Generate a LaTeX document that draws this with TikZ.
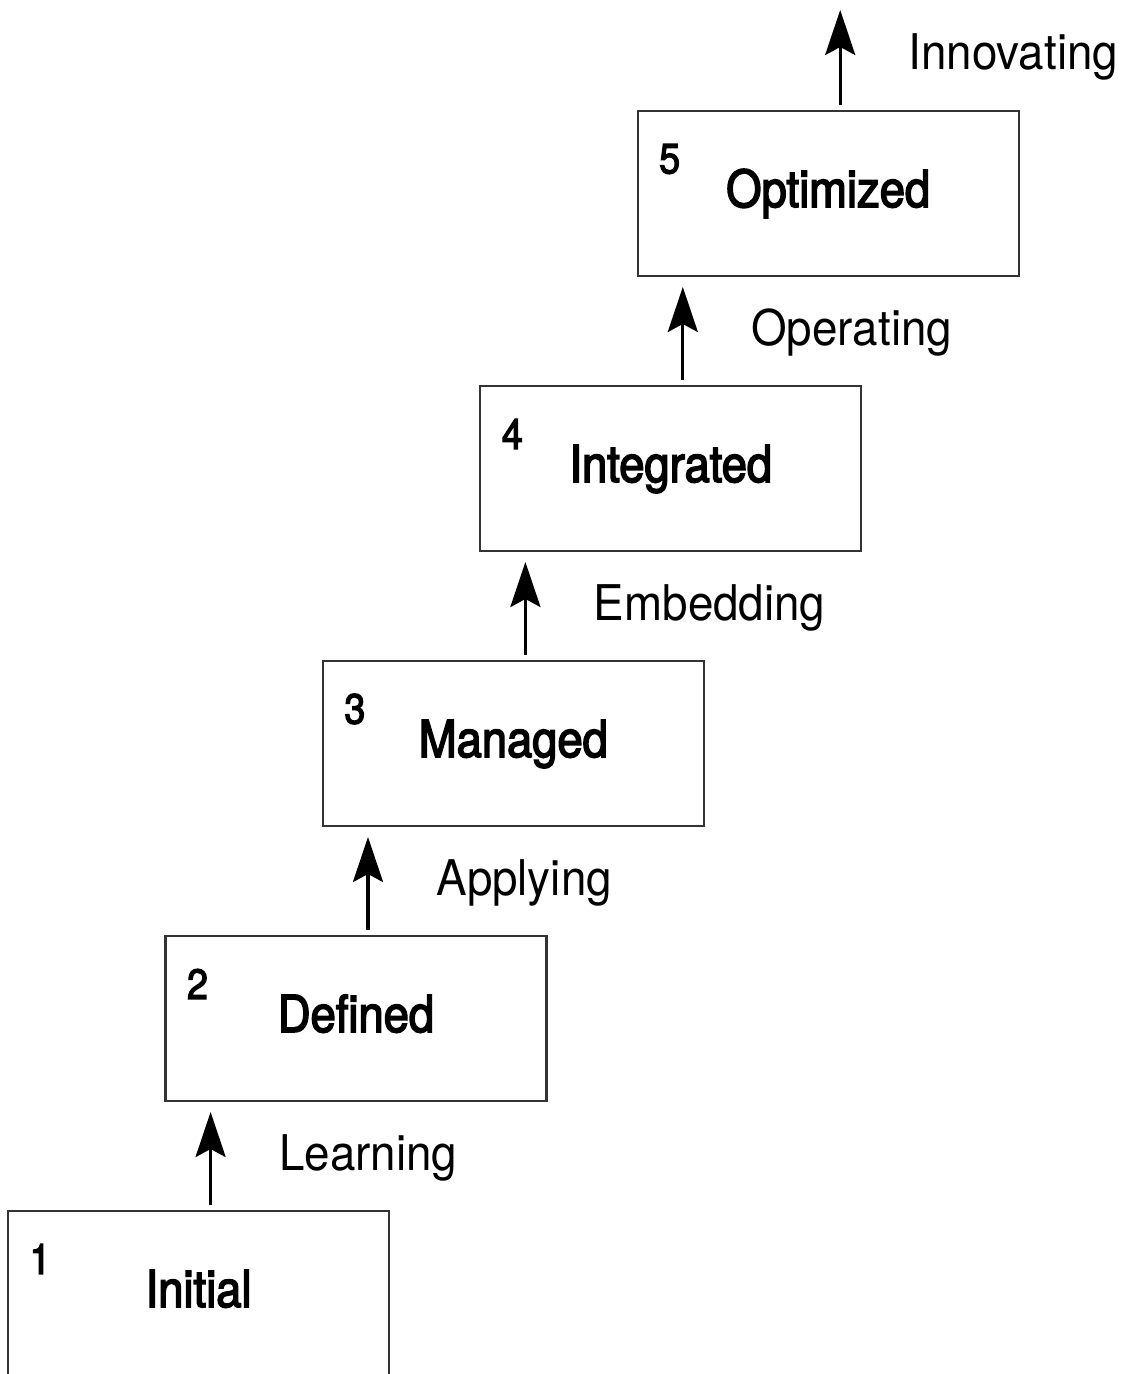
\documentclass[tikz,border=0pt]{standalone}
\usepackage{fontspec}
\setmainfont{TeX Gyre Heros}
\newfontfamily\stagefont[FakeStretch = 0.89, FakeBold = 3]{TeX Gyre Heros}
\newfontfamily\stepfont[FakeStretch = 0.93]{TeX Gyre Heros}
\usepackage{tikz}
\usetikzlibrary{arrows.meta, positioning}
\tikzstyle{stage} = [rectangle, minimum width = 3.81cm, minimum height = 1.65cm,
  outer sep = 0pt, draw = black!80, line width = 0.6pt, text height = 0.37cm,
  text depth = 0.1cm, font = \stagefont\fontsize{14.5}{17}\selectfont]
\tikzstyle{stagenum} = [inner sep = 0pt, font =
  \stagefont\fontsize{12}{14}\selectfont]
\tikzstyle{steplabel} = [anchor = west, xshift = 0.67cm, inner sep = 0pt,
  text height = 0.36cm, text depth = 0.06cm, font =
  \stepfont\fontsize{14}{17}\selectfont]
\tikzstyle{arrow} = [line width = 0.9pt, shorten < = 0.06cm, shorten > = 0.11cm,
  -{Stealth[length = 4.5mm, width = 3mm, inset = 0.8mm]}]

\begin{document}
\begin{tikzpicture}[node distance = 1.1cm and -2.236cm]
  \clip (0, 0) rectangle (11.25, 13.74);
  \node (s1) [stage] at (1.986, 0.805) {Initial};
  \node (s2) [stage, above right = of s1] {Defined};
  \node (s3) [stage, above right = of s2] {Managed};
  \node (s4) [stage, above right = of s3] {Integrated};
  \node (s5) [stage, above right = of s4] {Optimized};
  \coordinate [above = 1.12cm of s5.north] (top);

  \node (n1) [stagenum] at ([xshift = 0.32cm, yshift = -0.48cm]s1.north west) {1};
  \node (n2) [stagenum] at ([xshift = 0.32cm, yshift = -0.48cm]s2.north west) {2};
  \node (n3) [stagenum] at ([xshift = 0.32cm, yshift = -0.48cm]s3.north west) {3};
  \node (n4) [stagenum] at ([xshift = 0.32cm, yshift = -0.48cm]s4.north west) {4};
  \node (n5) [stagenum] at ([xshift = 0.32cm, yshift = -0.48cm]s5.north west) {5};

  \draw [arrow] ([xshift = 0.12cm]s1.north) -- ([xshift = 0.12cm]s1.north |- s2.south)
    node [steplabel, midway] {Learning};
  \draw [arrow] ([xshift = 0.12cm]s2.north) -- ([xshift = 0.12cm]s2.north |- s3.south)
    node [steplabel, midway] {Applying};
  \draw [arrow] ([xshift = 0.12cm]s3.north) -- ([xshift = 0.12cm]s3.north |- s4.south)
    node [steplabel, midway] {Embedding};
  \draw [arrow] ([xshift = 0.12cm]s4.north) -- ([xshift = 0.12cm]s4.north |- s5.south)
    node [steplabel, midway] {Operating};
  \draw [arrow] ([xshift = 0.12cm]s5.north) -- ([xshift = 0.12cm]top)
    node [steplabel, midway] {Innovating};
\end{tikzpicture}
\end{document}
